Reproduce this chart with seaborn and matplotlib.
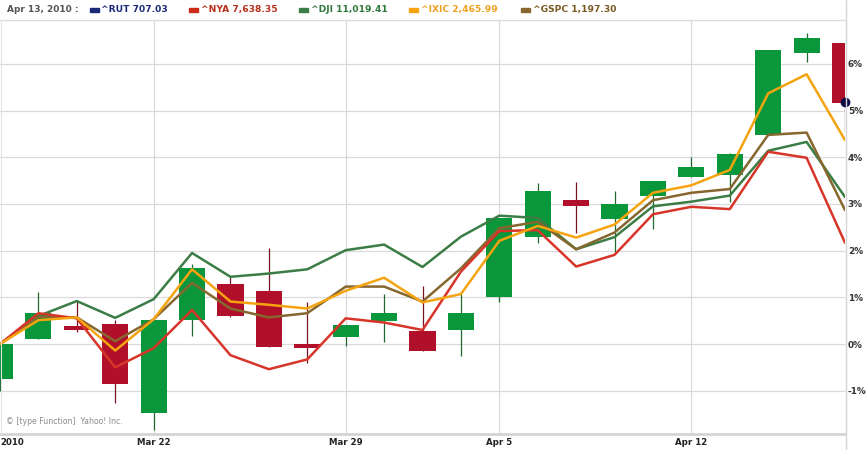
import numpy as np
import pandas as pd
import matplotlib
matplotlib.use("Agg")
import matplotlib.pyplot as plt
import seaborn as sns
from matplotlib.lines import Line2D
from matplotlib.patches import Rectangle

# ---------------- data ----------------
dates = ["Mar 16", "Mar 17", "Mar 18", "Mar 19", "Mar 22", "Mar 23", "Mar 24",
         "Mar 25", "Mar 26", "Mar 29", "Mar 30", "Mar 31", "Apr 1", "Apr 5",
         "Apr 6", "Apr 7", "Apr 8", "Apr 9", "Apr 12", "Apr 13", "Apr 14",
         "Apr 15", "Apr 16"]
tick_idx = [0, 4, 9, 13, 18]
tick_labels = ["2010", "Mar 22", "Mar 29", "Apr 5", "Apr 12"]

# ^RUT candles (percent change)
rut_open = [-0.75, 0.11, 0.39, 0.42, -1.48, 0.51, 1.28, 1.14, -0.04, 0.16, 0.50, 0.28,
            0.29, 1.00, 2.30, 3.08, 2.67, 3.18, 3.58, 3.63, 4.48, 6.24, 6.44]
rut_high = [0.00, 1.12, 0.95, 0.51, 0.52, 1.71, 1.43, 2.05, 0.91, 0.41, 1.07, 1.24,
            1.07, 2.69, 3.46, 3.48, 3.28, 3.49, 4.01, 4.10, 6.30, 6.67, 6.44]
rut_low = [-1.00, 0.10, 0.25, -1.26, -1.84, 0.17, 0.57, -0.07, -0.40, -0.04, 0.05, -0.14,
           -0.25, 0.91, 2.17, 2.38, 1.94, 2.46, 3.58, 3.05, 4.48, 6.05, 4.55]
rut_close = [0.00, 0.67, 0.31, -0.86, 0.51, 1.62, 0.61, -0.07, -0.09, 0.41, 0.66, -0.14,
             0.66, 2.69, 3.27, 2.96, 3.00, 3.49, 3.80, 4.07, 6.30, 6.55, 5.17]
rut_last = 5.19

dji = [0, 0.60, 0.92, 0.56, 0.96, 1.95, 1.44, 1.51, 1.60, 2.01, 2.13, 1.65, 2.30,
       2.75, 2.70, 2.03, 2.29, 2.95, 3.05, 3.18, 4.14, 4.33, 3.15]
nya = [0, 0.66, 0.55, -0.50, -0.09, 0.73, -0.24, -0.54, -0.33, 0.55, 0.46, 0.30, 1.55,
       2.42, 2.44, 1.66, 1.91, 2.78, 2.94, 2.89, 4.12, 3.99, 2.17]
ixic = [0, 0.51, 0.57, -0.14, 0.53, 1.60, 0.91, 0.84, 0.76, 1.14, 1.42, 0.89, 1.07,
        2.21, 2.53, 2.28, 2.56, 3.24, 3.40, 3.73, 5.37, 5.78, 4.37]
gspc = [0, 0.58, 0.57, 0.06, 0.53, 1.31, 0.76, 0.57, 0.66, 1.23, 1.23, 0.91, 1.62,
        2.48, 2.62, 2.03, 2.39, 3.08, 3.24, 3.32, 4.48, 4.53, 2.87]

legend_names = ["^RUT", "^NYA", "^DJI", "^IXIC", "^GSPC"]
legend_values = ["707.03", "7,638.35", "11,019.41", "2,465.99", "1,197.30"]
header_date = "Apr 13, 2010 :"

# ---------------- styles ----------------
C_RUT = "#1a2a78"
C_NYA = "#d8352a"
C_DJI = "#3b7d45"
C_IXIC = "#f5a40f"
C_GSPC = "#86672f"
C_UP = "#0a963a"
C_DN = "#b0102a"
C_UPW = "#1f6a30"
C_DNW = "#7a1424"
GRID = "#dadada"

sns.set_theme(style="white")
plt.rcParams["font.family"] = ["DejaVu Sans"]

W, H = 868, 450
fig = plt.figure(figsize=(W / 100, H / 100), dpi=100)
fig.patch.set_facecolor("white")

px = lambda x: x / W
py = lambda y: 1 - y / H

ax_left, ax_right, ax_top, ax_bot = 0, 845, 20, 434
ax = fig.add_axes([px(ax_left), py(ax_bot), px(ax_right - ax_left), (ax_bot - ax_top) / H])
ax.set_facecolor("white")

y0, ppu = 344.0, 46.67
ax.set_ylim((y0 - ax_bot) / ppu, (y0 - ax_top) / ppu)
ax.set_xlim(0, len(dates) - 1)

# grid
for v in range(-1, 7):
    ax.axhline(v, color=GRID, lw=0.9, zorder=0)
for t in tick_idx[1:]:
    ax.axvline(t, color=GRID, lw=0.9, zorder=0)

# candles
idx = np.arange(len(dates))
bw = 0.68
for i in idx:
    o, h, l, c = rut_open[i], rut_high[i], rut_low[i], rut_close[i]
    up = c >= o
    ax.vlines(i, l, h, color=C_UPW if up else C_DNW, lw=0.9, zorder=2)
    ax.bar(i, abs(c - o) if abs(c - o) > 0.05 else 0.08, bottom=min(o, c),
           width=bw, color=C_UP if up else C_DN, zorder=3, linewidth=0)

# index lines via seaborn
df = pd.DataFrame({
    "i": np.tile(idx, 4),
    "pct": dji + gspc + nya + ixic,
    "sym": ["^DJI"] * len(idx) + ["^GSPC"] * len(idx) + ["^NYA"] * len(idx) + ["^IXIC"] * len(idx),
})
sns.lineplot(data=df, x="i", y="pct", hue="sym",
             hue_order=["^DJI", "^GSPC", "^NYA", "^IXIC"],
             palette={"^DJI": C_DJI, "^GSPC": C_GSPC, "^NYA": C_NYA, "^IXIC": C_IXIC},
             lw=1.8, legend=False, ax=ax, zorder=4)

ax.plot([idx[-1]], [rut_last], "o", color="#0c0c45", ms=6, zorder=6, clip_on=False)

# axes styling
ax.yaxis.tick_right()
ax.set_yticks(range(-1, 7))
ax.set_yticklabels([f"{v}%" for v in range(-1, 7)], fontsize=6.4,
                   fontweight="bold", color="#333333")
ax.tick_params(axis="y", length=0, pad=2)
ax.set_xticks(tick_idx)
ax.set_xticklabels(tick_labels, fontsize=6.2, fontweight="bold", color="#222222")
ax.tick_params(axis="x", length=0, pad=3)
ax.get_xticklabels()[0].set_horizontalalignment("left")
ax.set_xlabel("")
ax.set_ylabel("")
for s in ["left", "top", "right"]:
    ax.spines[s].set_visible(False)
ax.spines["bottom"].set_color("#d4d4d4")
ax.spines["bottom"].set_linewidth(2.0)

# frame lines
fig.add_artist(Line2D([px(845.5), px(845.5)], [0, 1], color="#d4d4d4", lw=1.0))
fig.add_artist(Line2D([0, px(845.5)], [py(20), py(20)], color="#dcdcdc", lw=1.0))
fig.add_artist(Line2D([px(1), px(1)], [py(20), py(434)], color="#e2e2e2", lw=0.8))

# watermark
ax.text(0.007, 0.02, "\u00a9 [type Function]  Yahoo! Inc.", transform=ax.transAxes,
        fontsize=5.6, color="#8c8c8c", ha="left", va="bottom")

# header legend
fig.text(px(7), py(9.5), header_date, fontsize=6.5, fontweight="bold",
         color="#555555", ha="left", va="center")
sq_x = [90, 189, 299, 409, 521]
txt_x = [101, 201, 311, 421, 533]
cols = [C_RUT, "#cc2a1a", C_DJI, C_IXIC, C_GSPC]
txt_cols = [C_RUT, "#b8311c", "#2f7a3a", "#f0a020", "#7a5a22"]
for sx, tx, c, tc, n, v in zip(sq_x, txt_x, cols, txt_cols, legend_names, legend_values):
    fig.add_artist(Rectangle((px(sx), py(11.5)), px(9), 3.5 / H, color=c,
                             transform=fig.transFigure))
    fig.text(px(tx), py(9.5), f"{n} {v}", fontsize=6.6, fontweight="bold",
             color=tc, ha="left", va="center")

fig.savefig("out.png", dpi=100)
